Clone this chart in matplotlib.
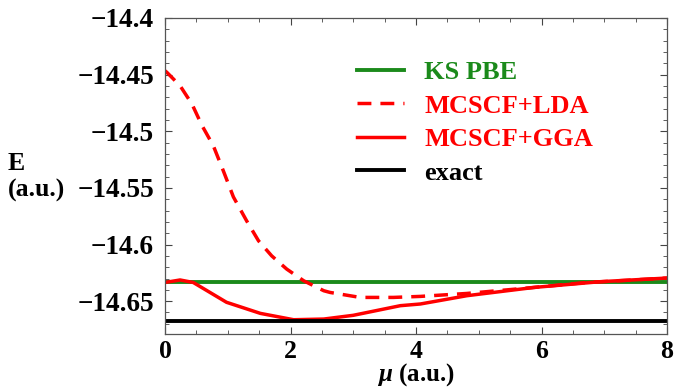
import matplotlib
matplotlib.use('Agg')
import matplotlib.pyplot as plt
from matplotlib.ticker import MultipleLocator

# values
mu_gga = [0.0, 0.24, 0.45, 0.98, 1.52, 2.05, 2.53, 3.0, 3.75, 4.07, 4.81, 5.88, 6.94, 8.0]
e_gga = [-14.6335, -14.6313, -14.6335, -14.651, -14.6608, -14.6664, -14.6658, -14.6625,
         -14.654, -14.6525, -14.6452, -14.6379, -14.6328, -14.6296]

mu_lda = [0.0, 0.03, 0.24, 0.43, 0.59, 0.77, 0.93, 1.09, 1.30, 1.49, 1.70, 1.94, 2.21,
          2.53, 2.63, 3.11, 3.64, 4.07, 4.81, 5.88, 6.68, 8.0]
e_lda = [-14.4466, -14.448, -14.4598, -14.476, -14.495, -14.5128, -14.535, -14.558,
         -14.579, -14.5967, -14.610, -14.6217, -14.632, -14.6408, -14.6423, -14.6467,
         -14.6467, -14.6458, -14.6432, -14.6379, -14.6337, -14.6296]

e_pbe = -14.6335
e_exact = -14.6673

yticks = [-14.4, -14.45, -14.5, -14.55, -14.6, -14.65]
ytick_labels = ['\u221214.4', '\u221214.45', '\u221214.5', '\u221214.55', '\u221214.6', '\u221214.65']

green = '#1b8a1b'
red = '#ff0000'

plt.rcParams['font.family'] = ['Liberation Serif', 'DejaVu Serif']
plt.rcParams['font.weight'] = 'bold'
plt.rcParams['mathtext.fontset'] = 'custom'
plt.rcParams['mathtext.it'] = 'Liberation Serif:italic:bold'

fig = plt.figure(figsize=(6.83, 3.91), dpi=100)
ax = fig.add_axes([165 / 683, 1 - 334 / 391, (667 - 165) / 683, (334 - 18) / 391])

ax.axhline(e_pbe, color=green, lw=2.8, label='KS PBE')
ax.plot(mu_lda, e_lda, color=red, lw=2.5, ls=(0, (4, 2.6)), label='MCSCF+LDA')
ax.plot(mu_gga, e_gga, color=red, lw=2.5, label='MCSCF+GGA')
ax.axhline(e_exact, color='black', lw=2.8, label='exact')

ax.set_xlim(0, 8)
ax.set_ylim(-14.679, -14.4)
ax.xaxis.set_major_locator(MultipleLocator(2))
ax.xaxis.set_minor_locator(MultipleLocator(0.5))
ax.yaxis.set_minor_locator(MultipleLocator(0.01))
ax.set_yticks(yticks)
ax.set_yticklabels(ytick_labels)
ax.tick_params(which='both', direction='in', top=True, right=True, color='#444444')
ax.tick_params(which='major', length=5, width=0.8)
ax.tick_params(which='minor', length=3, width=0.6)
ax.tick_params(axis='x', pad=4, labelsize=18.5)
ax.tick_params(axis='y', pad=8, labelsize=19.5)
for s in ax.spines.values():
    s.set_color('#555555')
    s.set_linewidth(0.9)

ax.set_xlabel(r'$\mu$ (a.u.)', fontsize=18, fontweight='bold', labelpad=-1)
fig.text(8 / 683, 1 - 177 / 391, 'E\n(a.u.)', fontsize=18.5, fontweight='bold',
         ha='left', va='center', linespacing=1.25)

leg = ax.legend(loc='upper left', bbox_to_anchor=(0.335, 0.94), frameon=False,
                fontsize=19, handlelength=1.8, handletextpad=0.75, labelspacing=0.38)
for txt, c in zip(leg.get_texts(), [green, red, red, 'black']):
    txt.set_color(c)
    txt.set_fontweight('bold')

fig.savefig('out.png', dpi=100)
